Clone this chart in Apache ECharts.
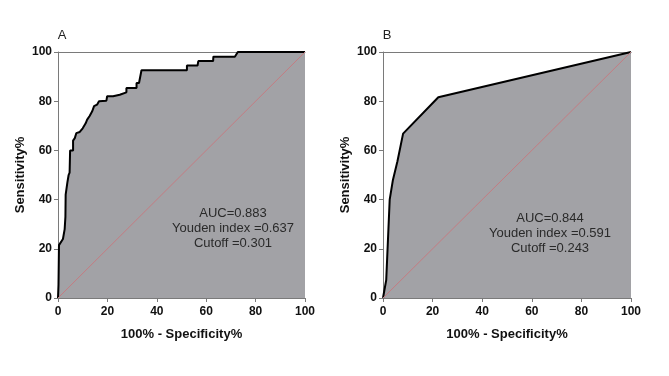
<!DOCTYPE html>
<html>
<head>
<meta charset="utf-8">
<script src="https://cdn.jsdelivr.net/npm/echarts@6/dist/echarts.min.js"></script>
<style>html,body{margin:0;padding:0;background:#fff}#c{width:669px;height:376px}</style>
</head>
<body>
<div id="c"></div>
<script>
// Panel A ROC points (100% - Specificity%, Sensitivity%)
var aFpr = [0, 0.2, 0.4, 1.1, 2.0, 2.7, 3.0, 3.1, 3.8, 4.3, 4.7, 4.9, 6.1, 6.1, 6.8, 7.4, 8.8, 10.0, 11.2, 11.8, 12.8, 13.9, 14.6, 15.8, 16.6, 19.6, 19.9, 22.3, 25.0, 27.7, 27.7, 31.8, 31.8, 32.8, 33.8, 52.2, 52.2, 56.5, 56.8, 62.8, 62.9, 71.6, 72.8, 100];
var aTpr = [0, 5.4, 21.5, 22.0, 24.0, 28.0, 33.0, 42.0, 47.0, 50.0, 51.0, 60.0, 60.0, 64.0, 65.0, 67.0, 67.5, 69.0, 71.0, 72.5, 74.0, 76.0, 78.0, 78.6, 80.0, 80.2, 82.0, 82.0, 82.6, 83.6, 85.4, 85.4, 87.4, 87.4, 92.6, 92.6, 94.5, 94.5, 96.3, 96.3, 98.1, 98.1, 100, 100];
// Panel B ROC points
var bFpr = [0, 1.3, 2.7, 4.0, 5.8, 8.1, 22.3, 100];
var bTpr = [0, 7.3, 40.0, 48.0, 55.5, 66.8, 81.6, 100];
// Diagonal reference line
var diagX = [0, 100];
var diagY = [0, 100];
var ticks = [0, 20, 40, 60, 80, 100];
var panelLabels = ['A', 'B'];
var annA = ['AUC=0.883', 'Youden index =0.637', 'Cutoff =0.301'];
var annB = ['AUC=0.844', 'Youden index =0.591', 'Cutoff =0.243'];

function pairs(xs, ys) { return xs.map(function (x, i) { return [x, ys[i]]; }); }

var font = 'Liberation Sans, Arial, Helvetica, sans-serif';
var axisGray = '#7a7a7a';
var fillGray = '#a2a2a6';

function xAx(gi) {
  return [{
    gridIndex: gi, type: 'value', min: 0, max: 100, interval: 20,
    name: '100% - Specificity%', nameLocation: 'middle', nameGap: 30,
    nameTextStyle: { fontFamily: font, fontWeight: 'bold', fontSize: 13, color: '#111' },
    axisLine: { show: true, lineStyle: { color: axisGray, width: 1 } },
    axisTick: { show: true, length: 4, lineStyle: { color: axisGray } },
    axisLabel: { fontFamily: font, fontWeight: 'bold', fontSize: 12, color: '#111', margin: 8 },
    splitLine: { show: false }
  }, {
    gridIndex: gi, type: 'value', min: 0, max: 100, position: 'top',
    axisLine: { show: true, lineStyle: { color: axisGray, width: 1 } },
    axisTick: { show: false }, axisLabel: { show: false }, splitLine: { show: false }
  }];
}
function yAx(gi) {
  return {
    gridIndex: gi, type: 'value', min: 0, max: 100, interval: 20,
    name: 'Sensitivity%', nameLocation: 'middle', nameGap: 31,
    nameTextStyle: { fontFamily: font, fontWeight: 'bold', fontSize: 13, color: '#111' },
    axisLine: { show: true, lineStyle: { color: axisGray, width: 1 } },
    axisTick: { show: true, length: 4, lineStyle: { color: axisGray } },
    axisLabel: { fontFamily: font, fontWeight: 'bold', fontSize: 12, color: '#111', margin: 6 },
    splitLine: { show: false }
  };
}
function rocSeries(xi, yi, xs, ys) {
  return {
    type: 'line', xAxisIndex: xi, yAxisIndex: yi, data: pairs(xs, ys),
    showSymbol: false, symbol: 'none', silent: true, z: 3,
    lineStyle: { color: '#000', width: 2 },
    areaStyle: { color: fillGray, opacity: 1, origin: 'start' }
  };
}
function diagSeries(xi, yi) {
  return {
    type: 'line', xAxisIndex: xi, yAxisIndex: yi, data: pairs(diagX, diagY),
    showSymbol: false, symbol: 'none', silent: true, z: 4,
    lineStyle: { color: '#c47c82', width: 1 }
  };
}
function annText(lines, cx, y0) {
  return lines.map(function (t, i) {
    return {
      type: 'text', x: cx, y: y0 + i * 15,
      style: { text: t, fontFamily: font, fontSize: 13, fill: '#2a2a2a', align: 'center', verticalAlign: 'middle' },
      z: 10
    };
  });
}

var chart = echarts.init(document.getElementById('c'), null, { renderer: 'canvas' });
chart.setOption({
  animation: false,
  backgroundColor: '#fff',
  grid: [
    { left: 58, top: 52, width: 247, height: 246 },
    { left: 383, top: 52, width: 248, height: 246 }
  ],
  xAxis: xAx(0).concat(xAx(1)),
  yAxis: [yAx(0), yAx(1)],
  series: [
    rocSeries(0, 0, aFpr, aTpr),
    diagSeries(0, 0),
    rocSeries(2, 1, bFpr, bTpr),
    diagSeries(2, 1)
  ],
  graphic: [
    { type: 'text', x: 62, y: 35, style: { text: panelLabels[0], fontFamily: font, fontSize: 13, fill: '#222', align: 'center', verticalAlign: 'middle' } },
    { type: 'text', x: 387, y: 35, style: { text: panelLabels[1], fontFamily: font, fontSize: 13, fill: '#222', align: 'center', verticalAlign: 'middle' } }
  ].concat(annText(annA, 233, 213)).concat(annText(annB, 550, 218))
});
</script>
</body>
</html>
